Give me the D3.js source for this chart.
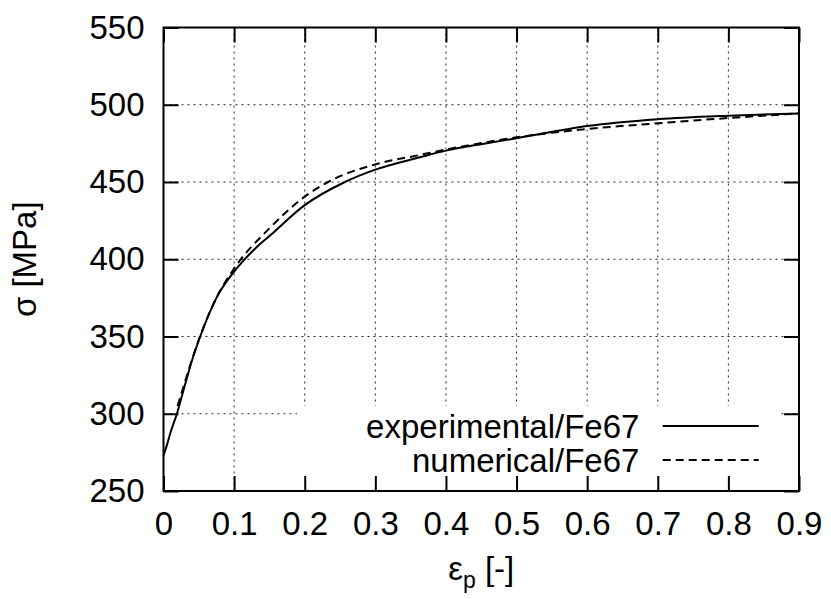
<!DOCTYPE html>
<html>
<head>
<meta charset="utf-8">
<script src="https://cdn.jsdelivr.net/npm/d3@7"></script>
<style>
  body { margin: 0; background: #fff; }
  text { font-family: "Liberation Sans", Arial, sans-serif; fill: #000; }
</style>
</head>
<body>
<div id="chart"></div>
<script>
// strain (eps_p) vs stress (MPa)
var expStrain = [0, 0.005, 0.01, 0.019, 0.03, 0.04, 0.052, 0.075, 0.1, 0.111, 0.13, 0.15, 0.2, 0.257, 0.3, 0.363, 0.4, 0.45, 0.5, 0.6, 0.7, 0.8, 0.9];
var expStress = [273, 280, 288, 300, 318, 334, 350, 375, 392, 398, 407, 415, 435, 450, 458, 466, 470.3, 474.5, 478.3, 486.2, 490.6, 492.9, 494.4];

var numStrain = [0.02, 0.03, 0.05, 0.075, 0.1, 0.15, 0.2, 0.233, 0.3, 0.363, 0.4, 0.45, 0.5, 0.6, 0.7, 0.8, 0.9];
var numStress = [305, 320, 348, 375, 394, 420, 440.5, 450, 461.4, 467.5, 471, 475.2, 478.9, 484.3, 488, 491.4, 494.4];

var xTicks = [0, 0.1, 0.2, 0.3, 0.4, 0.5, 0.6, 0.7, 0.8, 0.9];
var xTickLabels = ["0", "0.1", "0.2", "0.3", "0.4", "0.5", "0.6", "0.7", "0.8", "0.9"];
var yTicks = [250, 300, 350, 400, 450, 500, 550];

var seriesNames = ["experimental/Fe67", "numerical/Fe67"];

var width = 831, height = 599;
var margin = {top: 27.5, right: 32, bottom: 108, left: 163.5};
var w = width - margin.left - margin.right,
    h = height - margin.top - margin.bottom;
var fs = 33;

var x = d3.scaleLinear().domain([0, 0.9]).range([0, w]);
var y = d3.scaleLinear().domain([250, 550]).range([h, 0]);

var svg = d3.select("#chart").append("svg")
    .attr("width", width)
    .attr("height", height)
  .append("g")
    .attr("transform", "translate(" + margin.left + "," + margin.top + ")");

// grid
svg.append("g").selectAll("line")
  .data(xTicks.slice(1))
  .join("line")
    .attr("x1", d => x(d)).attr("x2", d => x(d))
    .attr("y1", 0).attr("y2", h)
    .attr("stroke", "#222").attr("stroke-width", 1)
    .attr("stroke-dasharray", "2,4");

svg.append("g").selectAll("line")
  .data(yTicks.slice(1, -1))
  .join("line")
    .attr("x1", 0).attr("x2", w)
    .attr("y1", d => y(d)).attr("y2", d => y(d))
    .attr("stroke", "#222").attr("stroke-width", 1)
    .attr("stroke-dasharray", "2,4");

// key box hides the grid under it
svg.append("rect")
    .attr("x", x(0.189)).attr("y", y(305))
    .attr("width", x(0.873) - x(0.189))
    .attr("height", h - y(305))
    .attr("fill", "#fff");

// curves
var line = d3.line()
    .x(d => x(d[0]))
    .y(d => y(d[1]))
    .curve(d3.curveMonotoneX);

svg.append("path")
    .datum(d3.zip(expStrain, expStress))
    .attr("d", line)
    .attr("fill", "none")
    .attr("stroke", "#000")
    .attr("stroke-width", 2);

svg.append("path")
    .datum(d3.zip(numStrain, numStress))
    .attr("d", line)
    .attr("fill", "none")
    .attr("stroke", "#000")
    .attr("stroke-width", 2)
    .attr("stroke-dasharray", "8,5");

// axes: gnuplot style mirrored ticks pointing inward
var tick = 15;
svg.append("g").attr("transform", "translate(0," + h + ")")
  .call(d3.axisBottom(x).tickValues(xTicks).tickSizeInner(-tick).tickSizeOuter(0).tickPadding(21)
    .tickFormat((d, i) => xTickLabels[i]))
  .call(g => g.select(".domain").remove())
  .call(g => g.selectAll("text").attr("font-size", fs).attr("font-family", null));

svg.append("g")
  .call(d3.axisTop(x).tickValues(xTicks).tickSizeInner(-tick).tickSizeOuter(0).tickFormat(""))
  .call(g => g.select(".domain").remove());

svg.append("g")
  .call(d3.axisLeft(y).tickValues(yTicks).tickSizeInner(-tick).tickSizeOuter(0).tickPadding(19))
  .call(g => g.select(".domain").remove())
  .call(g => g.selectAll("text").attr("font-size", fs).attr("font-family", null));

svg.append("g").attr("transform", "translate(" + w + ",0)")
  .call(d3.axisRight(y).tickValues(yTicks).tickSizeInner(-tick).tickSizeOuter(0).tickFormat(""))
  .call(g => g.select(".domain").remove());

svg.selectAll(".tick line").attr("stroke", "#000").attr("stroke-width", 2);

svg.append("rect")
    .attr("width", w).attr("height", h)
    .attr("fill", "none")
    .attr("stroke", "#000")
    .attr("stroke-width", 2);

// legend
var key = svg.append("g");
seriesNames.forEach(function (name, i) {
  var ky = y(292) + i * 34;
  key.append("text")
      .attr("x", x(0.674))
      .attr("y", ky)
      .attr("dy", "0.35em")
      .attr("text-anchor", "end")
      .attr("font-size", fs)
      .text(name);
  key.append("line")
      .attr("x1", x(0.707)).attr("x2", x(0.843))
      .attr("y1", ky).attr("y2", ky)
      .attr("stroke", "#000")
      .attr("stroke-width", 2)
      .attr("stroke-dasharray", i === 1 ? "8,5" : null);
});

// axis labels
var xl = svg.append("text")
    .attr("x", w / 2)
    .attr("y", h + 89)
    .attr("text-anchor", "middle")
    .attr("font-size", fs);
xl.append("tspan").text("\u03b5");
xl.append("tspan").attr("font-size", 23).attr("dy", 8).text("p");
xl.append("tspan").attr("dy", -8).text(" [-]");

svg.append("text")
    .attr("transform", "translate(" + (-127.5) + "," + (h / 2) + ") rotate(-90)")
    .attr("text-anchor", "middle")
    .attr("font-size", fs)
    .text("\u03c3 [MPa]");
</script>
</body>
</html>
